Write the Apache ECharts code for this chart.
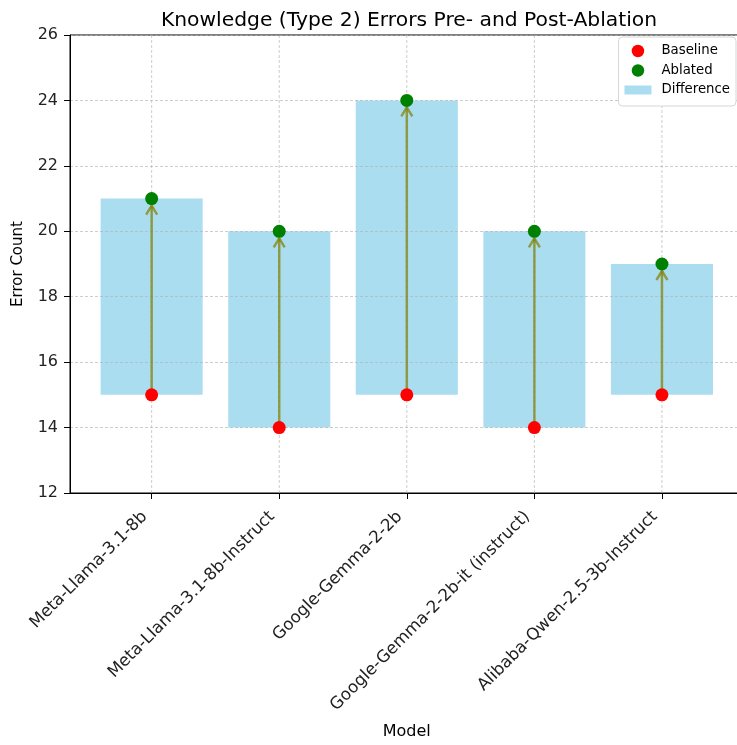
<!DOCTYPE html>
<html><head><meta charset="utf-8">
<script src="https://cdn.jsdelivr.net/npm/echarts@6/dist/echarts.min.js"></script>
<style>html,body{margin:0;padding:0;background:#fff}#c{width:737px;height:745px}</style>
</head><body><div id="c"></div>
<script>
const models = ['Meta-Llama-3.1-8b','Meta-Llama-3.1-8b-Instruct','Google-Gemma-2-2b','Google-Gemma-2-2b-it (instruct)','Alibaba-Qwen-2.5-3b-Instruct'];
const baseline = [15,14,15,14,15];
const ablated = [21,20,24,20,19];
const yTicks = [12,14,16,18,20,22,24,26];

const idx = models.map((m,i)=>i);
const font = 'DejaVu Sans';
const chart = echarts.init(document.getElementById('c'), null, {renderer:'canvas'});
const gridLine = {show:true, lineStyle:{color:'#b0b0b0', type:[3,2], width:0.8, opacity:0.8}};

chart.setOption({
  animation:false,
  textStyle:{fontFamily:font},
  title:{text:'Knowledge (Type 2) Errors Pre- and Post-Ablation', left:404, top:6, textAlign:'center',
    textStyle:{fontFamily:font, fontSize:20.3, fontWeight:'normal', color:'#000'}},
  grid:{left:70, right:-6.6, top:35, bottom:252, containLabel:false, outerBoundsMode:'none',
    show:true, borderColor:'#000', borderWidth:1, backgroundColor:'transparent'},
  legend:{orient:'vertical', right:1, top:37, itemWidth:27, itemHeight:12.5, itemGap:3.5, symbolKeepAspect:true,
    backgroundColor:'#fff', borderColor:'#d6d6d6', borderWidth:1, borderRadius:4, padding:[6,6,8,6],
    textStyle:{fontFamily:font, fontSize:13.3, color:'#000', lineHeight:16, padding:[0,0,0,5]},
    data:[{name:'Baseline', icon:'circle'},{name:'Ablated', icon:'circle'},
          {name:'Difference', icon:'path://M0,0 L27,0 L27,9 L0,9 Z'}]},
  xAxis:{type:'value', min:-0.64, max:4.64, z:3,
    name:'Model', nameLocation:'middle', nameGap:231, nameTextStyle:{fontFamily:font, fontSize:16, color:'#000'},
    axisLine:{show:true, onZero:false, lineStyle:{color:'#000', width:1}},
    axisTick:{show:true, customValues:idx, length:6, lineStyle:{color:'#000'}},
    axisLabel:{customValues:idx, rotate:45, fontFamily:font, fontSize:16.7, color:'#222', margin:14,
      padding:[0,10,0,0], formatter:(v)=>models[Math.round(v)]},
    splitLine:{show:false}},
  yAxis:{type:'value', min:12, max:26, interval:2, z:3,
    name:'Error Count', nameLocation:'middle', nameGap:44, nameTextStyle:{fontFamily:font, fontSize:15, color:'#000'},
    axisLine:{show:true, onZero:false, lineStyle:{color:'#000', width:1}},
    axisTick:{show:true, length:6, lineStyle:{color:'#000'}},
    axisLabel:{fontFamily:font, fontSize:16, color:'#222', margin:12},
    splitLine:gridLine},
  series:[
    {name:'Difference', type:'custom', z:2, itemStyle:{color:'rgba(135,206,235,0.7)'},
      data: idx.map(i=>[i, baseline[i], ablated[i]]),
      renderItem:(params, api)=>{
        const x = api.value(0);
        const p0 = api.coord([x-0.4, api.value(1)]);
        const p1 = api.coord([x+0.4, api.value(2)]);
        return {type:'rect', shape:{x:p0[0], y:p1[1], width:p1[0]-p0[0], height:p0[1]-p1[1]},
          style:{fill:'rgba(135,206,235,0.7)'}};
      }},
    {name:'vgrid', type:'custom', z:3, silent:true, data: idx.map(i=>[i]),
      renderItem:(params, api)=>{
        const a = api.coord([api.value(0), 12]);
        const b = api.coord([api.value(0), 26]);
        return {type:'line', shape:{x1:a[0], y1:a[1], x2:b[0], y2:b[1]},
          style:{stroke:'#b0b0b0', lineWidth:0.8, lineDash:[3,2], opacity:0.8}};
      }},
    {name:'arrows', type:'custom', z:4, silent:true,
      data: idx.map(i=>[i, baseline[i], ablated[i]]),
      renderItem:(params, api)=>{
        const a = api.coord([api.value(0), api.value(1)]);
        const b = api.coord([api.value(0), api.value(2)]);
        const col = 'rgba(128,128,0,0.7)';
        return {type:'group', children:[
          {type:'line', shape:{x1:a[0], y1:a[1], x2:b[0], y2:b[1]+7}, style:{stroke:col, lineWidth:2.5}},
          {type:'polyline', shape:{points:[[b[0]-5.5, b[1]+16],[b[0], b[1]+7],[b[0]+5.5, b[1]+16]]},
            style:{stroke:col, lineWidth:2.5, fill:null, lineJoin:'miter'}}
        ]};
      }},
    {name:'Baseline', type:'scatter', z:5, symbolSize:13, itemStyle:{color:'#ff0000', opacity:1},
      data: idx.map(i=>[i, baseline[i]])},
    {name:'Ablated', type:'scatter', z:5, symbolSize:13, itemStyle:{color:'#008000', opacity:1},
      data: idx.map(i=>[i, ablated[i]])}
  ]
});
</script></body></html>
